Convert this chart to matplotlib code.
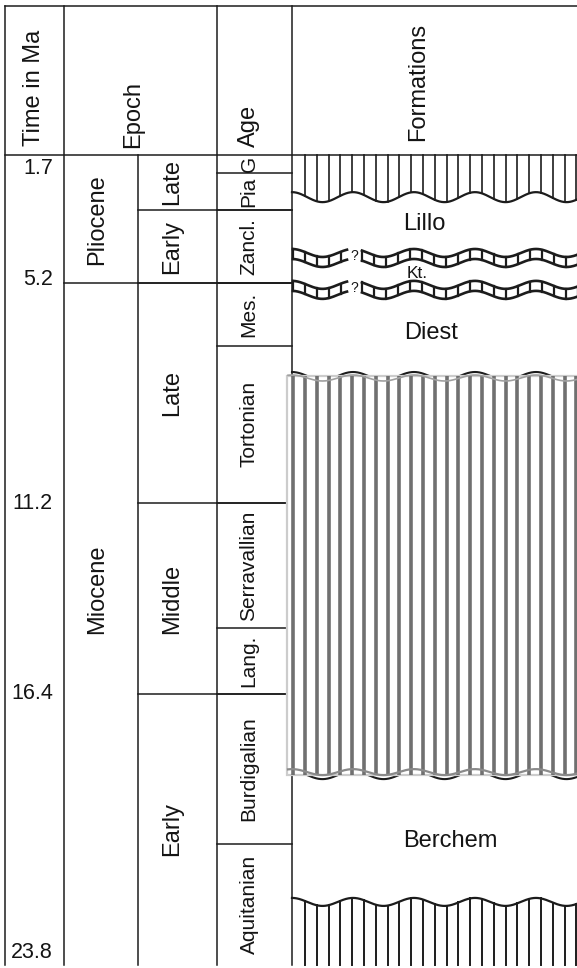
import numpy as np
import matplotlib
matplotlib.use('Agg')
import matplotlib.pyplot as plt
from matplotlib.patches import Rectangle

plt.rcParams['font.family'] = ['Liberation Sans', 'DejaVu Sans']

# ---------------- data ----------------
header_names = ['Time in Ma', 'Epoch', 'Age', 'Formations']

time_labels = ['1.7', '5.2', '11.2', '16.4', '23.8']
time_values = [1.7, 5.2, 11.2, 16.4, 23.8]

epoch_names = ['Pliocene', 'Miocene']
epoch_bounds = [(1.7, 5.2), (5.2, 23.8)]

subepoch_names = ['Late', 'Early', 'Late', 'Middle', 'Early']
subepoch_bounds = [(1.7, 3.2), (3.2, 5.2), (5.2, 11.2), (11.2, 16.4), (16.4, 23.8)]

age_names = ['G', 'Pia', 'Zancl.', 'Mes.', 'Tortonian', 'Serravallian',
             'Lang.', 'Burdigalian', 'Aquitanian']
age_bounds = [(1.7, 2.2), (2.2, 3.2), (3.2, 5.2), (5.2, 6.9), (6.9, 11.2),
              (11.2, 14.6), (14.6, 16.4), (16.4, 20.5), (20.5, 23.8)]

formation_names = ['Lillo', 'Kt.', 'Diest', 'Berchem']
formation_label_ma = [3.58, 4.92, 6.56, 20.42]

top_unit_base = 2.85          # base of uppermost hatched unit
question_bands = [4.51, 5.38]  # uncertain (?) boundary bands around Kattendijk
diest_base = 7.73
hiatus_block = (7.73, 18.62)  # big hatched (hiatus) block
berchem_top = 18.62
berchem_base = 22.08

# ---------------- layout helpers ----------------
PX_PER_MA = 36.65
def ma(px):
    return 1.7 + (px - 155) / PX_PER_MA

W, H = 577, 968
fig = plt.figure(figsize=(W / 100, H / 100), dpi=100)
ax = fig.add_axes([0, 0, 1, 1])
ax.set_xlim(0, W)
ax.set_ylim(ma(H), ma(0))
ax.axis('off')

LC = '#1c1c1c'
LW = 1.1
X = [5, 64, 138, 217, 292, 577]
HT = ma(6)
bottom = time_values[-1]
top = time_values[0]

# frame lines
ax.plot([X[0], X[5]], [HT, HT], color=LC, lw=LW)
ax.plot([X[0], X[5]], [top, top], color=LC, lw=LW)
for x in [X[0], X[1], X[3], X[4]]:
    ax.plot([x, x], [HT, bottom], color=LC, lw=LW)
ax.plot([X[2], X[2]], [top, bottom], color=LC, lw=LW)

# boundaries
for (a, b) in epoch_bounds[:-1]:
    ax.plot([X[1], X[4]], [b, b], color=LC, lw=LW)
for (a, b) in subepoch_bounds[:-1]:
    ax.plot([X[2], X[4]], [b, b], color=LC, lw=LW)
for (a, b) in age_bounds[:-1]:
    ax.plot([X[3], X[4]], [b, b], color=LC, lw=LW)

# header texts
TXT = '#141414'
ax.text(34, ma(88), header_names[0], rotation=90, ha='center', va='center', fontsize=17, color=TXT)
ax.text(133, ma(115), header_names[1], rotation=90, ha='center', va='center', fontsize=17, color=TXT)
ax.text(249, ma(126), header_names[2], rotation=90, ha='center', va='center', fontsize=17, color=TXT)
ax.text(418, ma(82), header_names[3], rotation=90, ha='center', va='center', fontsize=17, color=TXT)

# time labels
vas = ['top', 'center', 'center', 'center', 'bottom']
offs = [3, -4, 0, 0, -2]
for lab, v, va, o in zip(time_labels, time_values, vas, offs):
    ax.text(53, v + o / PX_PER_MA, lab, ha='right', va=va, fontsize=15.5, color=TXT)

# epoch labels
epoch_label_y = [np.mean(epoch_bounds[0]), ma(589)]
for name, y in zip(epoch_names, epoch_label_y):
    ax.text(97, y, name, rotation=90, ha='center', va='center', fontsize=17, color=TXT)

for name, (a, b) in zip(subepoch_names, subepoch_bounds):
    ax.text(172, (a + b) / 2, name, rotation=90, ha='center', va='center', fontsize=17, color=TXT)

for name, (a, b) in zip(age_names, age_bounds):
    ax.text(249, (a + b) / 2, name, rotation=90, ha='center', va='center', fontsize=15, color=TXT)

# ---------------- formations column ----------------
PERIOD = 61.0
PHASE = 353.0
def wave(x, center, amp_px):
    return center - (amp_px / PX_PER_MA) * np.cos(2 * np.pi * (np.asarray(x) - PHASE) / PERIOD)

xs = np.linspace(X[4], W, 800)
hatch_x = np.arange(293.2 + 11.8, W, 11.8)

# top hatched unit
for hx in hatch_x:
    ax.plot([hx, hx], [top, wave(hx, top_unit_base, 5)], color=LC, lw=1.2, zorder=2)
ax.plot(xs, wave(xs, top_unit_base, 5), color=LC, lw=1.6, zorder=2)

# uncertain brick bands
segments = [(293, 347), (362, 578)]
half = 5 / PX_PER_MA
for c in question_bands:
    for (s0, s1) in segments:
        sx = np.linspace(s0, s1, 300)
        cc = wave(sx, c, 4)
        ax.plot(sx, cc - half, color=LC, lw=1.9, zorder=2)
        ax.plot(sx, cc + half, color=LC, lw=1.9, zorder=2)
        for dx in np.arange(s0, s1 + 0.1, 12.0):
            cy = wave(dx, c, 4)
            ax.plot([dx, dx], [cy - half, cy + half], color=LC, lw=1.6, zorder=2)
    ax.text(354.5, c - 1.5 / PX_PER_MA, '?', ha='center', va='center', fontsize=10, color=TXT)

# Diest base wave (partly under the block)
ax.plot(xs, wave(xs, diest_base, 4), color=LC, lw=1.5, zorder=2)
# Berchem top wave (partly under the block)
ax.plot(xs, wave(xs, berchem_top, 4), color=LC, lw=1.5, zorder=2)

# big hatched block
b0, b1 = hiatus_block
ax.add_patch(Rectangle((287, b0), W - 287 + 5, b1 - b0, facecolor='white',
                       edgecolor='#cccccc', lw=1.6, zorder=3))
for hx in np.arange(293.2, W + 1, 11.8):
    ax.plot([hx, hx], [b0, b1], color='#707070', lw=2.6, zorder=4, solid_capstyle='butt')
bx = np.linspace(288, W, 600)
ax.plot(bx, wave(bx, b0 + 2 / PX_PER_MA, 3), color='#a0a0a0', lw=1.2, zorder=4)
ax.plot(bx, wave(bx, b1 - 3 / PX_PER_MA, 3), color='#8a8a8a', lw=1.6, zorder=4)

# bottom hatched unit
for hx in hatch_x:
    ax.plot([hx, hx], [wave(hx, berchem_base, 4), bottom], color=LC, lw=1.4, zorder=2)
ax.plot(xs, wave(xs, berchem_base, 4), color=LC, lw=1.6, zorder=2)

# formation names
fx = [424, 417, 431, 450]
fs = [17, 12.5, 17, 17]
for name, y, x, s in zip(formation_names, formation_label_ma, fx, fs):
    ax.text(x, y, name, ha='center', va='center', fontsize=s, color=TXT, zorder=5)

fig.savefig('out.png', dpi=100)
